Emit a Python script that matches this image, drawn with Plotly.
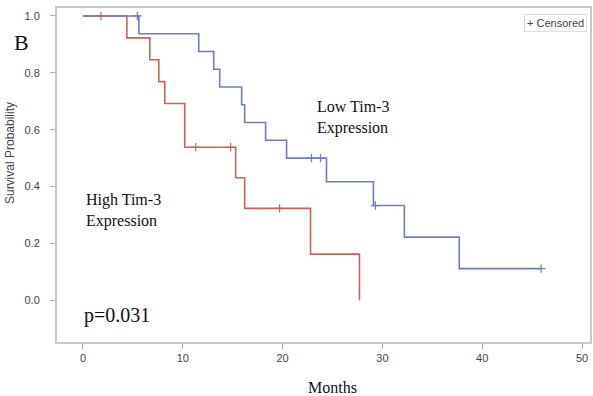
import plotly.graph_objects as go

# High Tim-3 expression group (red)
high_times = [0, 4.4, 6.7, 7.6, 8.2, 10.2, 15.3, 16.2, 22.8, 27.7]
high_surv = [1.0, 0.923, 0.846, 0.769, 0.692, 0.538, 0.431, 0.323, 0.162, 0.0]
high_cens_t = [1.8, 11.3, 14.8, 19.7]
high_cens_s = [1.0, 0.538, 0.538, 0.323]

# Low Tim-3 expression group (blue)
low_times = [0, 5.6, 11.6, 13.1, 13.7, 15.9, 16.2, 18.3, 20.4, 24.4, 29.1, 32.2, 37.7, 45.9]
low_surv = [1.0, 0.9375, 0.875, 0.8125, 0.75, 0.6875, 0.625, 0.5625, 0.5, 0.417, 0.333, 0.222, 0.111, 0.111]
low_cens_t = [5.45, 22.9, 23.8, 29.3, 45.9]
low_cens_s = [1.0, 0.5, 0.5, 0.333, 0.111]

x_ticks = [0, 10, 20, 30, 40, 50]
y_ticks = [0.0, 0.2, 0.4, 0.6, 0.8, 1.0]
y_tick_text = ["0.0", "0.2", "0.4", "0.6", "0.8", "1.0"]

RED = "#cd6358"
BLUE = "#6f7dc2"

fig = go.Figure()
fig.add_trace(go.Scatter(x=high_times, y=high_surv, mode="lines", line_shape="hv",
                         line=dict(color=RED, width=1.6), showlegend=False, hoverinfo="skip"))
fig.add_trace(go.Scatter(x=low_times, y=low_surv, mode="lines", line_shape="hv",
                         line=dict(color=BLUE, width=1.6), showlegend=False, hoverinfo="skip"))
fig.add_trace(go.Scatter(x=high_cens_t, y=high_cens_s, mode="markers",
                         marker=dict(symbol="cross-thin", size=6, line=dict(color=RED, width=1.2)),
                         showlegend=False, hoverinfo="skip"))
fig.add_trace(go.Scatter(x=low_cens_t, y=low_cens_s, mode="markers",
                         marker=dict(symbol="cross-thin", size=6, line=dict(color=BLUE, width=1.2)),
                         showlegend=False, hoverinfo="skip"))

axis_common = dict(showline=True, linecolor="#c8c8c8", linewidth=2, mirror=True,
                   showgrid=False, zeroline=False, ticks="outside", ticklen=5,
                   tickcolor="#b0b0b0", tickwidth=1,
                   tickfont=dict(family="Liberation Sans", size=11, color="#444444"))

fig.update_xaxes(range=[-2.6, 50.8], tickvals=x_ticks, **axis_common)
fig.update_yaxes(range=[-0.147, 1.028], tickvals=y_ticks, ticktext=y_tick_text,
                 ticklabelstandoff=8, **axis_common)

serif = "Liberation Serif"
ann = [
    dict(text="B", xref="paper", yref="paper", x=-0.085, y=0.898, xanchor="left", yanchor="middle",
         showarrow=False, font=dict(family=serif, size=22, color="#111")),
    dict(text="Low Tim-3<br>Expression", xref="x", yref="y", x=23.2, y=0.644, xanchor="left",
         yanchor="middle", align="left", showarrow=False, font=dict(family=serif, size=16, color="#111")),
    dict(text="High Tim-3<br>Expression", xref="x", yref="y", x=0.14, y=0.315, xanchor="left",
         yanchor="middle", align="left", showarrow=False, font=dict(family=serif, size=16, color="#111")),
    dict(text="p=0.031", xref="x", yref="y", x=-0.05, y=-0.053, xanchor="left", yanchor="middle",
         showarrow=False, font=dict(family=serif, size=20, color="#111")),
    dict(text="Months", xref="x", yref="paper", x=25.0, y=-0.135, xanchor="center", yanchor="middle",
         showarrow=False, font=dict(family=serif, size=16, color="#111")),
    dict(text="Survival Probability", xref="paper", yref="paper", x=-0.088, y=0.566,
         xanchor="center", yanchor="middle", textangle=-90, showarrow=False,
         font=dict(family="Liberation Sans", size=12, color="#444")),
    dict(text="+ Censored", xref="paper", yref="paper", x=0.994, y=0.982, xanchor="right", yanchor="top",
         showarrow=False, bordercolor="#dddddd", borderwidth=1, borderpad=2,
         font=dict(family="Liberation Sans", size=11, color="#444")),
]

fig.update_layout(width=593, height=396, margin=dict(l=57, r=1, t=8, b=54),
                  plot_bgcolor="white", paper_bgcolor="white", annotations=ann)

fig.write_html("out.html", config={"displayModeBar": False},
               post_script="document.body.style.margin='0';document.body.style.overflow='hidden';")
